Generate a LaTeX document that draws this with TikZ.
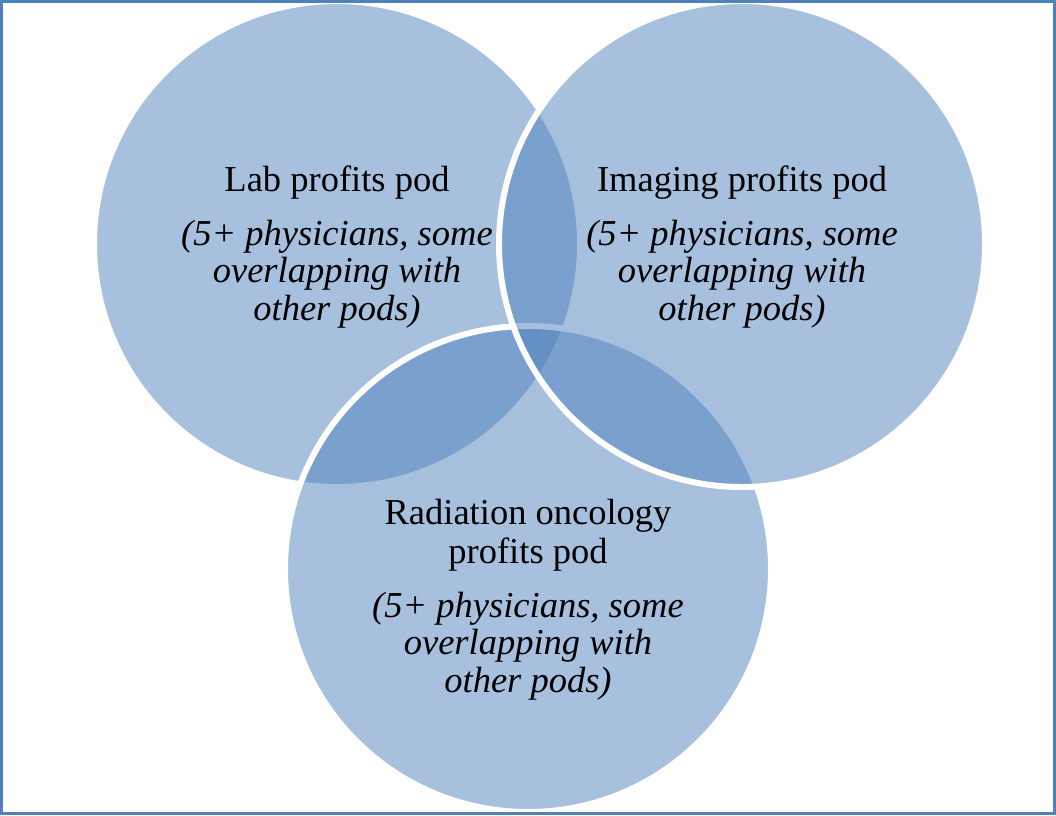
\documentclass[tikz,border=0pt]{standalone}
\usepackage{fontspec}
\setmainfont{Liberation Serif}
\usepackage{tikz}
\definecolor{podblue}{RGB}{79,129,189}
\tikzset{
  pod/.style={circle, minimum size=486pt, inner sep=0pt, fill=podblue, fill opacity=0.5, draw=white, line width=6pt},
  podtext/.style={align=center, inner sep=0pt, anchor=base, font=\fontsize{36.5}{37.5}\selectfont},
}
\begin{document}
\begin{tikzpicture}[x=1pt,y=-1pt]
  \useasboundingbox (0,0) rectangle (1056,815);
  %
  % LAB
  \node[pod] (lab) at (337,244) {};
  % RADIATION ONCOLOGY
  \node[pod] (radiation) at (528,569) {};
  % IMAGING
  \node[pod] (imaging) at (742,244) {};
  %
  % TEXTS (placed at the baseline of their last line)
  \node[podtext] (labtext) at (337,320) {Lab profits pod\\[16pt]
    \textit{(5+ physicians, some}\\ \textit{overlapping with}\\ \textit{other pods)}};
  \node[podtext] (imagingtext) at (742,320) {Imaging profits pod\\[16pt]
    \textit{(5+ physicians, some}\\ \textit{overlapping with}\\ \textit{other pods)}};
  \node[podtext] (radiationtext) at (528,692) {Radiation oncology\\[1.2pt] profits pod\\[16pt]
    \textit{(5+ physicians, some}\\ \textit{overlapping with}\\ \textit{other pods)}};
  %
  \draw[podblue, line width=3pt] (1.5,1.5) rectangle (1054,813.3);
  %
\end{tikzpicture}
\end{document}
